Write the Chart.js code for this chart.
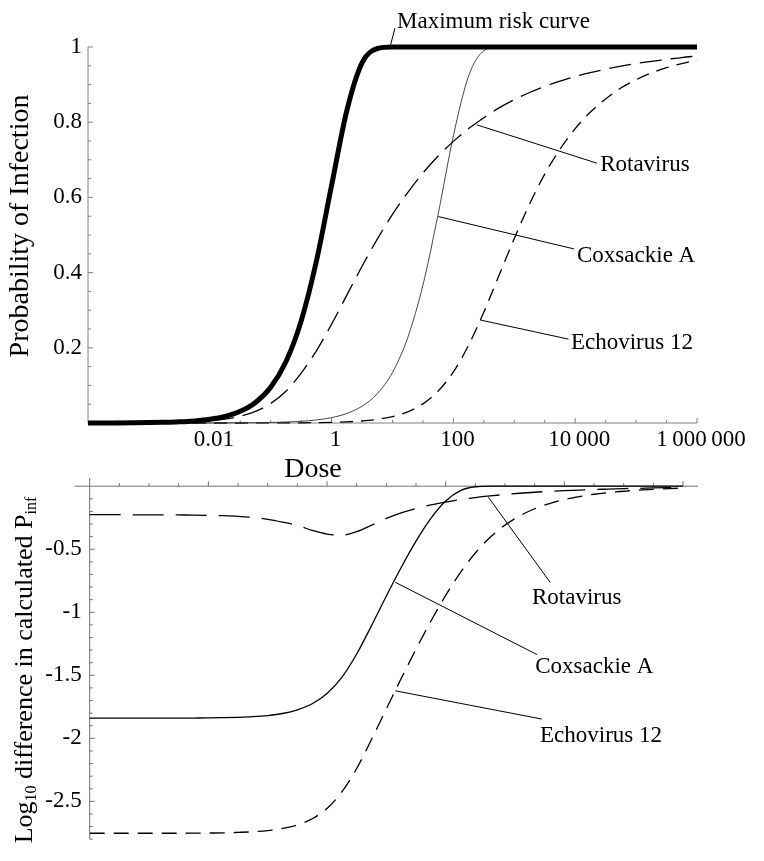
<!DOCTYPE html>
<html><head><meta charset="utf-8">
<script src="https://cdn.jsdelivr.net/npm/chart.js@4.4.1/dist/chart.umd.min.js"></script>
<style>
html,body{margin:0;padding:0;background:#fff;}
#wrap{position:relative;width:764px;height:861px;overflow:hidden;background:#fff;}
canvas{position:absolute;left:0;top:0;}
</style></head><body>
<div id="wrap"><canvas id="cTop" width="764" height="861"></canvas><canvas id="cBot" width="764" height="861"></canvas></div>
<script>
// ---------- data ----------
const dose = [1e-4, 1.778e-4, 3.162e-4, 5.623e-4, 1e-3, 1.778e-3, 3.162e-3, 5.623e-3, 0.01, 0.01778, 0.03162, 0.05623,
  0.1, 0.1778, 0.3162, 0.5623, 1, 1.778, 3.162, 5.623, 10, 17.78, 31.62, 56.23, 100, 177.8, 316.2, 562.3,
  1000, 1778, 3162, 5623, 1e4, 17780, 31620, 56230, 1e5, 177800, 316200, 562300, 1e6];

const maxRiskP = [0.0001, 0.000178, 0.000316, 0.000562, 0.0010, 0.00178, 0.00316, 0.00561, 0.00995, 0.0176, 0.0311, 0.0547,
  0.0952, 0.163, 0.271, 0.430, 0.632, 0.831, 0.958, 0.996, 1.0, 1, 1, 1, 1, 1, 1, 1,
  1, 1, 1, 1, 1, 1, 1, 1, 1, 1, 1, 1, 1];
const rotavirusP = [0.0000594, 0.000106, 0.000188, 0.000334, 0.000593, 0.00106, 0.00187, 0.00331, 0.00585, 0.0103, 0.0180, 0.0309,
  0.0520, 0.0845, 0.1325, 0.192, 0.263, 0.340, 0.417, 0.489, 0.555, 0.613, 0.665, 0.710, 0.749, 0.783, 0.812, 0.838,
  0.860, 0.879, 0.895, 0.909, 0.922, 0.932, 0.941, 0.949, 0.956, 0.962, 0.967, 0.972, 0.976];
const coxsackieP = [1.45e-6, 2.57e-6, 4.57e-6, 8.13e-6, 1.45e-5, 2.57e-5, 4.57e-5, 8.12e-5, 1.45e-4, 2.57e-4, 4.57e-4, 8.12e-4,
  0.00144, 0.00257, 0.00456, 0.00809, 0.0144, 0.0254, 0.0447, 0.0780, 0.1345, 0.227, 0.367, 0.556, 0.764, 0.923, 0.990, 1.0,
  1, 1, 1, 1, 1, 1, 1, 1, 1, 1, 1, 1, 1];
const echovirusP = [1.8e-7, 3.1e-7, 5.6e-7, 9.9e-7, 1.77e-6, 3.14e-6, 5.58e-6, 9.93e-6, 1.77e-5, 3.14e-5, 5.58e-5, 9.93e-5,
  1.77e-4, 3.14e-4, 5.58e-4, 9.91e-4, 0.00176, 0.00312, 0.00553, 0.00976, 0.0171, 0.0298, 0.0509, 0.0849, 0.136, 0.207, 0.295, 0.393,
  0.491, 0.582, 0.662, 0.728, 0.783, 0.827, 0.862, 0.891, 0.913, 0.931, 0.945, 0.956, 0.965];

const rotavirusLogDiff = [-0.226, -0.226, -0.226, -0.227, -0.227, -0.227, -0.228, -0.229, -0.231, -0.234, -0.239, -0.248,
  -0.263, -0.285, -0.311, -0.351, -0.380, -0.388, -0.361, -0.309, -0.256, -0.212, -0.177, -0.149, -0.126, -0.106, -0.090, -0.077,
  -0.066, -0.056, -0.048, -0.041, -0.035, -0.031, -0.026, -0.023, -0.019, -0.017, -0.014, -0.012, -0.011];
const coxsackieLogDiff = [-1.840, -1.840, -1.840, -1.840, -1.840, -1.840, -1.840, -1.839, -1.838, -1.836, -1.833, -1.828,
  -1.819, -1.803, -1.774, -1.726, -1.644, -1.516, -1.331, -1.106, -0.871, -0.645, -0.436, -0.255, -0.117, -0.035, -0.0045, 0,
  0, 0, 0, 0, 0, 0, 0, 0, 0, 0, 0, 0, 0];
const echovirusLogDiff = [-2.753, -2.753, -2.753, -2.753, -2.753, -2.753, -2.753, -2.752, -2.751, -2.750, -2.746, -2.741,
  -2.732, -2.715, -2.687, -2.638, -2.556, -2.425, -2.239, -2.009, -1.766, -1.526, -1.293, -1.071, -0.866, -0.684, -0.530, -0.405,
  -0.309, -0.235, -0.179, -0.138, -0.106, -0.083, -0.064, -0.050, -0.040, -0.031, -0.025, -0.019, -0.015];

const doseTickValues = [0.01, 1, 100, 1e4, 1e6];
const doseTickLabels = ['0.01', '1', '100', '10\u2009000', '1\u2009000\u2009000'];
const probTickValues = [0.2, 0.4, 0.6, 0.8, 1];
const probTickLabels = ['0.2', '0.4', '0.6', '0.8', '1'];
const diffTickValues = [-0.5, -1, -1.5, -2, -2.5];
const diffTickLabels = ['-0.5', '-1', '-1.5', '-2', '-2.5'];

// ---------- helpers ----------
const FONT = '"Liberation Serif", "Times New Roman", Times, serif';
const pts = arr => dose.map((d, i) => ({x: d, y: arr[i]}));
const sameLog = (a, b) => Math.abs(Math.log10(a) - Math.log10(b)) < 1e-6;
const halfDecadeTicks = [];
for (let k = -8; k <= 12; k++) halfDecadeTicks.push(Math.pow(10, k / 2));
const stepTicks = (from, to, step) => { const out = []; const n = Math.round((to - from) / step); for (let i = 0; i <= n; i++) out.push(+(from + i * step).toFixed(6)); return out; };
const P10 = e => Math.pow(10, e);

const mmaAxes = {
  id: 'mmaAxes',
  beforeDatasetsDraw(chart, args, o) {
    const ctx = chart.ctx, xs = chart.scales.x, ys = chart.scales.y;
    const x0 = xs.getPixelForValue(o.originX), y0 = ys.getPixelForValue(o.originY);
    ctx.save();
    ctx.strokeStyle = o.color; ctx.lineWidth = 1;
    ctx.beginPath();
    ctx.moveTo(xs.left - o.xExtend[0], y0); ctx.lineTo(xs.right + o.xExtend[1], y0);
    ctx.moveTo(x0, ys.top - o.yExtend[0]); ctx.lineTo(x0, ys.bottom + o.yExtend[1]);
    for (const t of xs.ticks) {
      if (sameLog(t.value, o.originX)) continue;
      const p = xs.getPixelForValue(t.value);
      const len = o.xMajor.some(m => sameLog(m, t.value)) ? o.majorLen : o.minorLen;
      ctx.moveTo(p, y0); ctx.lineTo(p, y0 - len);
    }
    for (const t of ys.ticks) {
      if (Math.abs(t.value - o.originY) < 1e-9) continue;
      const p = ys.getPixelForValue(t.value);
      const len = o.yMajor.some(m => Math.abs(m - t.value) < 1e-6) ? o.majorLen : o.minorLen;
      ctx.moveTo(x0, p); ctx.lineTo(x0 + len, p);
    }
    ctx.stroke();
    ctx.restore();
  }
};

const mmaText = {
  id: 'mmaText',
  afterDraw(chart, args, o) {
    const ctx = chart.ctx, xs = chart.scales.x, ys = chart.scales.y;
    ctx.save();
    ctx.fillStyle = '#000'; ctx.strokeStyle = '#000'; ctx.lineWidth = 1;
    for (const a of (o.callouts || [])) {
      ctx.beginPath();
      ctx.moveTo(xs.getPixelForValue(a.from[0]), ys.getPixelForValue(a.from[1]));
      ctx.lineTo(xs.getPixelForValue(a.to[0]), ys.getPixelForValue(a.to[1]));
      ctx.stroke();
      ctx.font = o.size + 'px ' + FONT;
      ctx.textAlign = 'left'; ctx.textBaseline = 'middle';
      ctx.fillText(a.text, xs.getPixelForValue(a.at[0]), ys.getPixelForValue(a.at[1]));
    }
    for (const t of (o.titles || [])) {
      ctx.save();
      ctx.translate(t.x, t.y);
      if (t.rotate) ctx.rotate(-Math.PI / 2);
      ctx.textAlign = 'left'; ctx.textBaseline = 'middle';
      let w = 0;
      for (const p of t.parts) { ctx.font = (p.sub ? t.subSize : t.size) + 'px ' + FONT; w += ctx.measureText(p.text).width; }
      let x = -w / 2;
      for (const p of t.parts) {
        ctx.font = (p.sub ? t.subSize : t.size) + 'px ' + FONT;
        ctx.fillText(p.text, x, p.sub ? t.subShift : 0);
        x += ctx.measureText(p.text).width;
      }
      ctx.restore();
    }
    ctx.restore();
  }
};

const lineDs = (label, arr, width, dash, color, order) => ({
  label, data: pts(arr), borderColor: color, borderWidth: width, borderDash: dash,
  pointRadius: 0, pointHoverRadius: 0, fill: false, cubicInterpolationMode: 'monotone',
  clip: false, order, borderJoinStyle: 'round'
});

const tickFont = {family: FONT, size: 23};

// ---------- top panel ----------
new Chart(document.getElementById('cTop'), {
  type: 'line',
  data: {datasets: [
    lineDs('Maximum risk curve', maxRiskP, 5, [], '#000', 0),
    lineDs('Rotavirus', rotavirusP, 1.3, [22, 9], '#000', 1),
    lineDs('Coxsackie A', coxsackieP, 0.9, [], '#333', 1),
    lineDs('Echovirus 12', echovirusP, 1.3, [13, 8], '#000', 1)
  ]},
  options: {
    responsive: false, animation: false,
    layout: {padding: {left: 0, right: 67, top: 47, bottom: 398}},
    plugins: {
      legend: {display: false}, tooltip: {enabled: false},
      mmaAxes: {originX: 1e-4, originY: 0, color: '#808080', xExtend: [0, 0], yExtend: [0, 0],
        xMajor: doseTickValues, yMajor: probTickValues, majorLen: 5, minorLen: 3},
      mmaText: {
        size: 23,
        callouts: [
          {text: 'Maximum risk curve', from: [P10(0.96), 1.0], to: [P10(1.04), 1.05], at: [P10(1.075), 1.066]},
          {text: 'Rotavirus', from: [P10(2.385), 0.793], to: [P10(4.357), 0.691], at: [P10(4.41), 0.686]},
          {text: 'Coxsackie A', from: [P10(1.753), 0.549], to: [P10(3.98), 0.463], at: [P10(4.03), 0.444]},
          {text: 'Echovirus 12', from: [P10(2.44), 0.274], to: [P10(3.89), 0.223], at: [P10(3.93), 0.213]}
        ],
        titles: [
          {parts: [{text: 'Probability of Infection'}], x: 21, y: 226, rotate: true, size: 28},
          {parts: [{text: 'Dose'}], x: 313, y: 470, rotate: false, size: 28}
        ]
      }
    },
    scales: {
      x: {
        type: 'logarithmic', min: 1e-4, max: 1e6,
        afterBuildTicks: s => { s.ticks = halfDecadeTicks.map(v => ({value: v})); },
        afterFit: s => { s.height = 40; },
        ticks: {autoSkip: false, maxRotation: 0, minRotation: 0, padding: 3, color: '#000', font: tickFont, labelOffset: 4,
          callback: v => { const i = doseTickValues.findIndex(t => sameLog(t, v)); return i >= 0 ? doseTickLabels[i] : ''; }},
        grid: {display: false, drawTicks: false}, border: {display: false}
      },
      y: {
        type: 'linear', min: 0, max: 1,
        afterBuildTicks: s => { s.ticks = stepTicks(0, 1, 0.05).map(v => ({value: v})); },
        afterFit: s => { s.width = 88; },
        ticks: {autoSkip: false, padding: 6, color: '#000', font: tickFont,
          callback: v => { const i = probTickValues.findIndex(t => Math.abs(t - v) < 1e-6); return i >= 0 ? probTickLabels[i] : ''; }},
        grid: {display: false, drawTicks: false}, border: {display: false}
      }
    }
  },
  plugins: [mmaAxes, mmaText]
});

// ---------- bottom panel ----------
new Chart(document.getElementById('cBot'), {
  type: 'line',
  data: {datasets: [
    lineDs('Rotavirus', rotavirusLogDiff, 1.3, [31, 12], '#000', 1),
    lineDs('Coxsackie A', coxsackieLogDiff, 1.3, [], '#000', 0),
    lineDs('Echovirus 12', echovirusLogDiff, 1.3, [15, 9], '#000', 1)
  ]},
  options: {
    responsive: false, animation: false,
    layout: {padding: {left: 0, right: 81, top: 478, bottom: 0}},
    plugins: {
      legend: {display: false}, tooltip: {enabled: false},
      mmaAxes: {originX: 1e-4, originY: 0, color: '#707070', xExtend: [15, 15], yExtend: [0, 0],
        xMajor: doseTickValues, yMajor: diffTickValues, majorLen: 5, minorLen: 3},
      mmaText: {
        size: 23,
        callouts: [
          {text: 'Rotavirus', from: [P10(2.72), -0.088], to: [P10(3.76), -0.762], at: [P10(3.454), -0.887]},
          {text: 'Coxsackie A', from: [P10(1.15), -0.762], to: [P10(3.54), -1.336], at: [P10(3.51), -1.433]},
          {text: 'Echovirus 12', from: [P10(1.15), -1.623], to: [P10(3.62), -1.847], at: [P10(3.59), -1.98]}
        ],
        titles: [
          {parts: [{text: 'Log'}, {text: '10', sub: true}, {text: ' difference in calculated P'}, {text: 'inf', sub: true}],
            x: 25, y: 670, rotate: true, size: 26, subSize: 16, subShift: 7}
        ]
      }
    },
    scales: {
      x: {
        type: 'logarithmic', min: 1e-4, max: 1e6,
        afterBuildTicks: s => { s.ticks = halfDecadeTicks.map(v => ({value: v})); },
        afterFit: s => { s.height = 0; },
        ticks: {display: false, autoSkip: false},
        grid: {display: false, drawTicks: false}, border: {display: false}
      },
      y: {
        type: 'linear', min: -2.8, max: 0.065,
        afterBuildTicks: s => { s.ticks = stepTicks(-2.8, 0, 0.1).map(v => ({value: v})); },
        afterFit: s => { s.width = 89.7; },
        ticks: {autoSkip: false, padding: 8, color: '#000', font: tickFont,
          callback: v => { const i = diffTickValues.findIndex(t => Math.abs(t - v) < 1e-6); return i >= 0 ? diffTickLabels[i] : ''; }},
        grid: {display: false, drawTicks: false}, border: {display: false}
      }
    }
  },
  plugins: [mmaAxes, mmaText]
});
</script></body></html>
